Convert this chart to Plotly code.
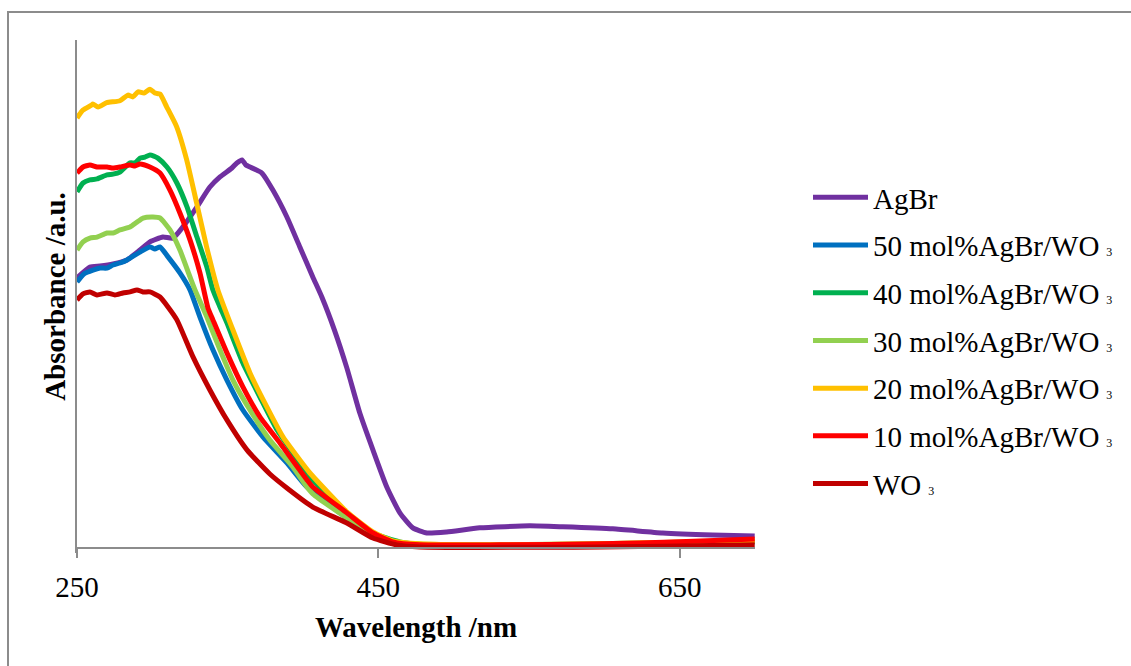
import plotly.graph_objects as go

# UV-vis diffuse reflectance spectra, AgBr / WO3 composites
agbr_nm = [250, 258.6, 265.3, 273.9, 283.2, 291.8, 298.4, 307.0, 313.7, 320.3, 329.6, 338.2,
           344.9, 352.8, 356.1, 359.5, 362.1, 364.8, 372.7, 380.0, 389.3, 397.9, 406.5, 412.5,
           421.1, 429.1, 437.7, 446.4, 455.6, 464.3, 472.9, 482.2, 495.4, 517.3, 550.5, 572.4,
           605.6, 638.7, 671.9, 699.8]
agbr_abs = [1.063, 1.106, 1.110, 1.118, 1.134, 1.173, 1.205, 1.224, 1.220, 1.264, 1.343, 1.421,
            1.461, 1.496, 1.516, 1.528, 1.508, 1.500, 1.476, 1.409, 1.303, 1.185, 1.067, 0.988,
            0.854, 0.709, 0.531, 0.386, 0.240, 0.138, 0.079, 0.059, 0.063, 0.079, 0.087, 0.083,
            0.075, 0.059, 0.051, 0.047]

m50_nm = [250, 254.6, 260.6, 265.3, 269.9, 273.9, 278.5, 283.2, 291.8, 298.4, 301.7, 305.1,
          310.4, 318.3, 325.0, 331.6, 340.2, 349.5, 360.1, 373.4, 389.3, 402.6, 429.1, 446.4,
          464.3, 497.4, 699.8]
m50_abs = [1.047, 1.079, 1.094, 1.102, 1.102, 1.114, 1.122, 1.134, 1.165, 1.185, 1.177, 1.185,
           1.146, 1.083, 1.016, 0.909, 0.780, 0.661, 0.543, 0.437, 0.335, 0.240, 0.118, 0.051,
           0.020, 0.008, 0.024]

m40_nm = [250, 254.0, 258.6, 263.3, 269.9, 273.9, 278.5, 285.2, 288.5, 291.8, 295.1, 298.4,
          301.0, 303.7, 309.7, 316.3, 323.0, 329.6, 336.2, 340.2, 344.9, 349.5, 360.1, 371.4,
          382.7, 393.3, 404.6, 429.1, 446.4, 464.3, 484.2, 597.0, 699.8]
m40_abs = [1.402, 1.437, 1.449, 1.453, 1.469, 1.472, 1.480, 1.516, 1.516, 1.535, 1.539, 1.547,
           1.543, 1.535, 1.500, 1.437, 1.343, 1.224, 1.106, 1.016, 0.949, 0.886, 0.728, 0.594,
           0.465, 0.374, 0.280, 0.138, 0.059, 0.024, 0.012, 0.012, 0.024]

m30_nm = [250, 254.0, 258.6, 263.3, 269.9, 273.9, 278.5, 285.2, 289.8, 293.8, 300.4, 305.1,
          311.7, 318.3, 325.0, 328.3, 336.2, 344.9, 353.5, 364.8, 378.0, 393.3, 402.6, 406.5,
          429.1, 446.4, 464.3, 497.4, 597.0, 699.8]
m30_abs = [1.173, 1.205, 1.220, 1.224, 1.240, 1.240, 1.252, 1.264, 1.283, 1.299, 1.303, 1.299,
           1.252, 1.173, 1.067, 1.016, 0.909, 0.780, 0.661, 0.543, 0.425, 0.319, 0.240, 0.213,
           0.118, 0.051, 0.020, 0.012, 0.016, 0.028]

m20_nm = [250, 253.9, 259.8, 260.6, 264.0, 269.7, 278.5, 283.8, 287.1, 290.5, 294.4, 298.4,
          301.7, 305.1, 309.5, 316.1, 322.8, 329.4, 336.0, 343.5, 353.5, 364.8, 376.0,
          386.7, 397.9, 404.6, 429.1, 446.4, 459.6, 477.5, 517.3, 597.0, 699.8]
m20_abs = [1.693, 1.724, 1.744, 1.748, 1.736, 1.753, 1.761, 1.783, 1.776, 1.796, 1.791, 1.806,
           1.791, 1.787, 1.737, 1.659, 1.528, 1.358, 1.186, 1.016, 0.858, 0.689, 0.555,
           0.437, 0.346, 0.295, 0.142, 0.063, 0.028, 0.016, 0.012, 0.016, 0.028]

m10_nm = [250, 254.0, 258.6, 263.3, 269.9, 273.9, 278.5, 285.2, 288.5, 291.8, 298.4, 305.1,
          311.7, 318.3, 325.0, 331.6, 336.9, 340.2, 349.5, 360.1, 371.4, 384.7, 402.6, 406.5,
          429.1, 446.4, 459.6, 477.5, 530.5, 597.0, 650.0, 699.8]
m10_abs = [1.476, 1.500, 1.508, 1.500, 1.500, 1.496, 1.500, 1.508, 1.504, 1.512, 1.500, 1.476,
           1.409, 1.319, 1.213, 1.083, 0.945, 0.898, 0.768, 0.634, 0.516, 0.413, 0.268, 0.240,
           0.138, 0.059, 0.024, 0.012, 0.012, 0.016, 0.024, 0.035]

wo3_nm = [250, 254.0, 258.6, 263.3, 269.9, 275.2, 280.5, 285.2, 289.8, 293.8, 298.4, 305.1,
          310.4, 316.3, 327.0, 338.2, 349.5, 362.8, 378.0, 389.3, 406.5, 429.1, 446.4, 462.3,
          477.5, 597.0, 650.0, 699.8]
wo3_abs = [0.976, 1.000, 1.008, 0.996, 1.004, 0.996, 1.004, 1.008, 1.016, 1.008, 1.008, 0.988,
           0.949, 0.898, 0.752, 0.622, 0.504, 0.386, 0.291, 0.236, 0.161, 0.098, 0.039, 0.012,
           0.004, 0.004, 0.008, 0.012]

SUB3 = '<span style="font-size:12px">\u2002\u200a3</span>'
series = [
    ("AgBr", agbr_nm, agbr_abs, "#7030A0"),
    ("50 mol%AgBr/WO" + SUB3, m50_nm, m50_abs, "#0070C0"),
    ("40 mol%AgBr/WO" + SUB3, m40_nm, m40_abs, "#00B050"),
    ("30 mol%AgBr/WO" + SUB3, m30_nm, m30_abs, "#92D050"),
    ("20 mol%AgBr/WO" + SUB3, m20_nm, m20_abs, "#FFC000"),
    ("10 mol%AgBr/WO" + SUB3, m10_nm, m10_abs, "#FF0000"),
    ("WO" + SUB3, wo3_nm, wo3_abs, "#C00000"),
]

FONT = "Liberation Serif, DejaVu Serif, serif"
AXIS_GREY = "#8c8c8c"

W, H = 1131, 666
ML, MR, MT, MB = 77, 376, 40, 113
Y_MIN, Y_MAX = -0.02, 2.0

fig = go.Figure()
for i, (name, xs, ys, color) in enumerate(series):
    fig.add_trace(go.Scatter(
        x=xs, y=ys, mode="lines", name=name, legendgroup=f"g{i}",
        line=dict(color=color, width=5, shape="spline", smoothing=0.5),
    ))

pw, ph = W - ML - MR, H - MT - MB


def px_x(p):
    return (p - ML) / pw


def px_y(p):
    return (H - MB - p) / ph


# outer chart-area frame (runs off the right and bottom edges)
fig.add_shape(type="rect", xref="paper", yref="paper",
              x0=px_x(8), x1=px_x(1140), y0=px_y(680), y1=px_y(12),
              line=dict(color=AXIS_GREY, width=2), fillcolor="rgba(0,0,0,0)", layer="below")

fig.update_layout(
    width=W, height=H,
    margin=dict(l=ML, r=MR, t=MT, b=MB, autoexpand=False),
    paper_bgcolor="white", plot_bgcolor="white",
    font=dict(family=FONT, size=29, color="black"),
    showlegend=True,
    legend=dict(
        x=px_x(808), y=px_y(172), xanchor="left", yanchor="top",
        font=dict(family=FONT, size=29, color="black"),
        itemwidth=55, tracegroupgap=7, bgcolor="rgba(0,0,0,0)",
    ),
    xaxis=dict(
        range=[250, 700], tickvals=[250, 450, 650], ticktext=["250", "450", "650"],
        showgrid=False, zeroline=False, showline=True,
        linecolor=AXIS_GREY, linewidth=2,
        ticks="outside", ticklen=9, tickwidth=2, tickcolor=AXIS_GREY,
        anchor="free", position=(0 - Y_MIN) / (Y_MAX - Y_MIN),
        tickfont=dict(family=FONT, size=29, color="black"),
        ticklabelstandoff=4,
        title=dict(text="<b>Wavelength /nm</b>", standoff=14,
                   font=dict(family=FONT, size=29, color="black")),
    ),
    yaxis=dict(
        range=[Y_MIN, Y_MAX], showgrid=False, zeroline=False, showline=True,
        linecolor=AXIS_GREY, linewidth=2, showticklabels=False, ticks="",
        title=dict(text="<b>Absorbance /a.u.</b>", standoff=1,
                   font=dict(family=FONT, size=29, color="black")),
    ),
)

fig.write_html("out.html")
